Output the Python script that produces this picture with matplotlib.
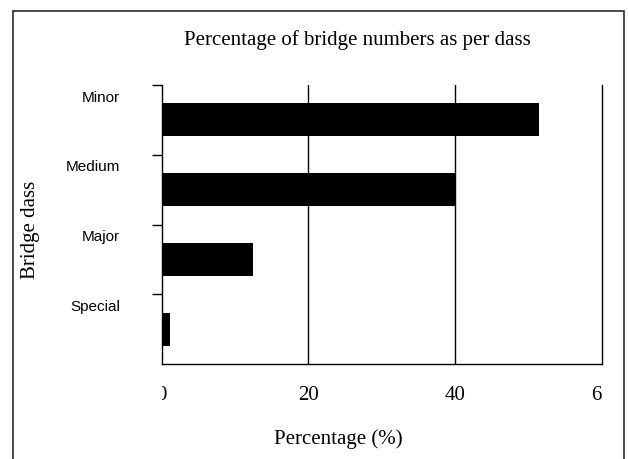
import matplotlib
matplotlib.use('Agg')
import matplotlib.pyplot as plt
from matplotlib.patches import Rectangle
from matplotlib.transforms import Bbox, TransformedBbox

plt.rcParams['font.family'] = ['Liberation Serif', 'DejaVu Serif']

# bridge share by class, top to bottom as drawn
classes = ['Minor', 'Medium', 'Major', 'Special']
percent = [51.5, 40.2, 12.5, 1.1]
x_ticks = [0, 20, 40, 60]
x_tick_labels = ['0', '20', '40', '60']

W, H = 628, 459
fig = plt.figure(figsize=(W / 100, H / 100), dpi=100)

# outer box round the whole figure (bottom edge runs off the image)
fig.add_artist(Rectangle((12.7 / W, -0.1), (624 - 12.7) / W, 1 - 10.7 / H + 0.1,
                         transform=fig.transFigure, fill=False,
                         lw=1.1, ec='#1a1a1a'))

ax = fig.add_axes([161.5 / W, 1 - 364 / H, 440 / W, 279 / H])

n = len(classes)
ypos = [n - 1 - i for i in range(n)]
ax.barh(ypos, percent, height=0.47, color='black', zorder=3)

ax.set_xlim(0, 60)
ax.set_ylim(-0.5, n - 0.5)

# x axis: no tick marks, vertical grid lines at 20 and 40
ax.set_xticks(x_ticks)
ax.set_xticklabels(x_tick_labels, fontsize=15)
ax.tick_params(axis='x', length=0, pad=16)
for x in x_ticks[1:-1]:
    ax.axvline(x, color='black', lw=1.0, zorder=2)

# y axis: tick marks between classes, labels sit just under each mark
ax.set_yticks([i + 0.5 for i in range(n)])
ax.set_yticklabels([])
ax.tick_params(axis='y', which='major', length=7, width=1.0, direction='out')
ax.set_yticks([p + 0.34 for p in ypos], minor=True)
ax.set_yticklabels(classes, minor=True, fontsize=11, family='Liberation Sans')
ax.tick_params(axis='y', which='minor', length=0, pad=30)

for side in ['left', 'bottom', 'right']:
    ax.spines[side].set_linewidth(1.0)
ax.spines['top'].set_visible(False)

# tick numbers are cut off at the plot's left and right edges
clip = TransformedBbox(Bbox([[0, -1], [1, 1]]), ax.transAxes)
for t in ax.xaxis.get_major_ticks():
    t.label1.set_clip_box(clip)
    t.label1.set_clip_on(True)

fig.text(357 / W, 1 - 40 / H, 'Percentage of bridge numbers as per dass',
         ha='center', va='center', fontsize=15)
fig.text(338 / W, 1 - 439 / H, 'Percentage (%)',
         ha='center', va='center', fontsize=15)
fig.text(30 / W, 1 - 230 / H, 'Bridge dass', rotation=90,
         ha='center', va='center', fontsize=15)

fig.savefig('out.png', dpi=100)
